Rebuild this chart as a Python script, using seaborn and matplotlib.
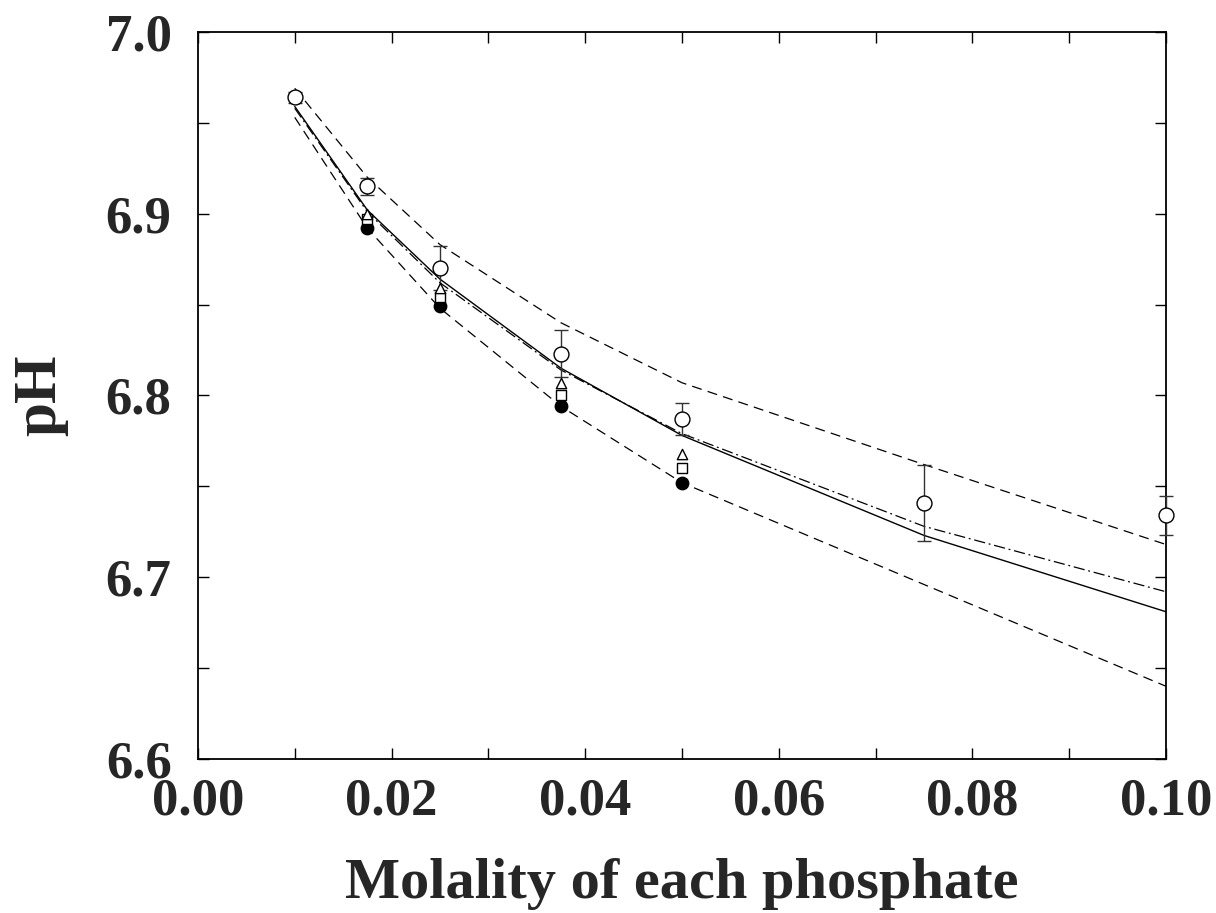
import numpy as np
import pandas as pd
import matplotlib
matplotlib.use("Agg")
import matplotlib.pyplot as plt
import seaborn as sns
from matplotlib.ticker import MultipleLocator

# ---- data ----
x_line = [0.01, 0.0175, 0.025, 0.0375, 0.05, 0.075, 0.10]
upper_dashed = [6.969, 6.920, 6.883, 6.840, 6.807, 6.762, 6.718]
solid = [6.959, 6.902, 6.864, 6.815, 6.778, 6.723, 6.681]
dashdot = [6.958, 6.901, 6.862, 6.814, 6.779, 6.728, 6.692]
lower_dashed = [6.953, 6.892, 6.848, 6.794, 6.752, 6.696, 6.640]

x_open = [0.01, 0.0175, 0.025, 0.0375, 0.05, 0.075, 0.10]
y_open = [6.964, 6.915, 6.870, 6.823, 6.787, 6.741, 6.734]
err_open = [0.003, 0.0045, 0.012, 0.013, 0.009, 0.021, 0.0105]

x_small = [0.0175, 0.025, 0.0375, 0.05]
y_triangle = [6.900, 6.859, 6.807, 6.768]
y_square = [6.897, 6.854, 6.800, 6.760]
y_filled = [6.892, 6.849, 6.794, 6.752]

sns.set_theme(style="white")
plt.rcParams['font.family'] = ['Liberation Serif', 'DejaVu Serif']
plt.rcParams['font.weight'] = 'bold'

fig = plt.figure(figsize=(12.16, 9.13), dpi=100)
ax = fig.add_axes([0.1628, 0.1687, 0.9589 - 0.1628, 0.965 - 0.1687])

lines = pd.DataFrame({"x": x_line, "up": upper_dashed, "solid": solid,
                      "dd": dashdot, "low": lower_dashed})
sns.lineplot(data=lines, x="x", y="up", ax=ax, color="black", lw=0.9,
             linestyle=(0, (8, 5)))
sns.lineplot(data=lines, x="x", y="low", ax=ax, color="black", lw=0.9,
             linestyle=(0, (8, 5)))
sns.lineplot(data=lines, x="x", y="solid", ax=ax, color="black", lw=1.0,
             linestyle="-")
sns.lineplot(data=lines, x="x", y="dd", ax=ax, color="black", lw=0.9,
             linestyle=(0, (9, 3, 1.5, 3)))

ax.errorbar(x_open, y_open, yerr=err_open, fmt="none", ecolor="#333333",
            elinewidth=1.0, capsize=5, capthick=1.0, zorder=3, clip_on=False)

sm = pd.DataFrame({"x": x_small, "tri": y_triangle, "sq": y_square, "fc": y_filled})
sns.scatterplot(data=sm, x="x", y="fc", ax=ax, marker="o", s=80,
                color="black", edgecolor="black", linewidth=1, zorder=4)
sns.scatterplot(data=sm, x="x", y="sq", ax=ax, marker="s", s=50,
                facecolor="white", edgecolor="black", linewidth=1, zorder=5)
sns.scatterplot(data=sm, x="x", y="tri", ax=ax, marker="^", s=55,
                facecolor="white", edgecolor="black", linewidth=1, zorder=6)
op = pd.DataFrame({"x": x_open, "y": y_open})
sns.scatterplot(data=op, x="x", y="y", ax=ax, marker="o", s=115,
                facecolor="white", edgecolor="black", linewidth=1, zorder=7,
                clip_on=False)

ax.set_xlim(0.0, 0.10)
ax.set_ylim(6.6, 7.0)
ax.xaxis.set_minor_locator(MultipleLocator(0.01))
ax.yaxis.set_minor_locator(MultipleLocator(0.05))
ax.set_xticks([0.0, 0.02, 0.04, 0.06, 0.08, 0.10])
ax.set_xticklabels(["0.00", "0.02", "0.04", "0.06", "0.08", "0.10"])
ax.set_yticks([6.6, 6.7, 6.8, 6.9, 7.0])
ax.set_yticklabels(["6.6", "6.7", "6.8", "6.9", "7.0"])
ax.tick_params(which="both", direction="in", top=True, right=True,
               bottom=True, left=True, length=8, width=1.0, color="black",
               labelsize=38)
ax.tick_params(axis="x", pad=13)
ax.tick_params(axis="y", pad=19)
for lab in ax.get_xticklabels() + ax.get_yticklabels():
    lab.set_fontweight("bold")
for sp in ax.spines.values():
    sp.set_color("black")
    sp.set_linewidth(1.3)

ax.set_xlabel("Molality of each phosphate", fontsize=42, fontweight="bold", labelpad=24)
ax.set_ylabel("pH", fontsize=44, fontweight="bold", labelpad=27)
ax.grid(False)

fig.savefig("out.png", dpi=100)
